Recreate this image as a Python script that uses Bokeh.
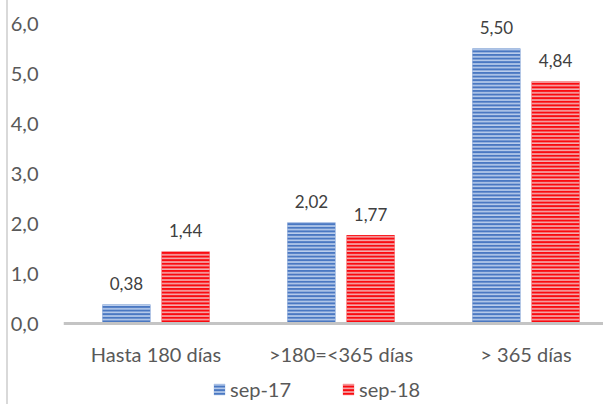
from bokeh.plotting import figure
from bokeh.models import (ColumnDataSource, FixedTicker, Legend, LegendItem,
                          LabelSet, Range1d)
from bokeh.transform import dodge
from bokeh.core.properties import value
from bokeh.embed import file_html
from bokeh.resources import INLINE

categories = ["Hasta 180 días", ">180=<365 días", "> 365 días"]
sep17 = [0.38, 2.02, 5.50]
sep18 = [1.44, 1.77, 4.84]
series_names = ["sep-17", "sep-18"]
y_ticks = [0, 1, 2, 3, 4, 5, 6]
y_tick_labels = ["0,0", "1,0", "2,0", "3,0", "4,0", "5,0", "6,0"]

FONT = "Lato"
AXIS_COLOR = "#595959"


def fmt(v):
    return f"{v:.2f}".replace(".", ",")


pos = [i + 0.5 for i in range(len(categories))]
src = ColumnDataSource(dict(
    x=pos, s17=sep17, s18=sep18,
    l17=[fmt(v) for v in sep17], l18=[fmt(v) for v in sep18],
))

border_css = (":host::after {content: ''; position: absolute; left: 6px; top: 0;"
              " width: 2px; height: 100%; background: #D9D9D9;"
              " pointer-events: none; z-index: 10;}")

p = figure(width=603, height=404,
           x_range=Range1d(0, 2.919), y_range=Range1d(-1.62, 6.26),
           output_backend="svg", toolbar_location=None,
           min_border_left=63, min_border_right=0,
           min_border_top=10, min_border_bottom=0,
           stylesheets=[border_css])
p.outline_line_color = None
p.xgrid.visible = False
p.ygrid.visible = False
p.background_fill_color = "white"
p.border_fill_color = "white"

r1 = p.vbar(x=dodge("x", -0.16), top="s17", bottom=0, width=0.26, source=src,
            fill_color="#4A78C2", line_color=None,
            hatch_pattern="horizontal_line", hatch_color="#C3D4EF",
            hatch_scale=3.6, hatch_weight=1.5)
r2 = p.vbar(x=dodge("x", 0.16), top="s18", bottom=0, width=0.26, source=src,
            fill_color="#FA0A0F", line_color=None,
            hatch_pattern="horizontal_line", hatch_color="#F2B9BB",
            hatch_scale=3.6, hatch_weight=1.5)

for col, lab, off in (("s17", "l17", -0.16), ("s18", "l18", 0.16)):
    p.add_layout(LabelSet(x=dodge("x", off), y=col, text=lab, source=src,
                          text_align="center", text_baseline="middle",
                          y_offset=21, text_font_size="17px",
                          text_color="#404040", text_font=value(FONT)))

# x axis, drawn at y = 0
p.xaxis.fixed_location = 0
p.xaxis.ticker = FixedTicker(ticks=pos)
p.xaxis.major_label_overrides = {k: c for k, c in zip(pos, categories)}
p.xaxis.axis_line_color = "#C4C4C4"
p.xaxis.axis_line_width = 3
p.xaxis.major_tick_line_color = None
p.xaxis.minor_tick_line_color = None
p.xaxis.major_label_standoff = 12
p.xaxis.major_label_text_font = FONT
p.xaxis.major_label_text_font_size = "20px"
p.xaxis.major_label_text_color = AXIS_COLOR

# y axis
p.yaxis.ticker = FixedTicker(ticks=y_ticks)
p.yaxis.major_label_overrides = {t: l for t, l in zip(y_ticks, y_tick_labels)}
p.yaxis.axis_line_color = None
p.yaxis.major_tick_line_color = None
p.yaxis.minor_tick_line_color = None
p.yaxis.major_label_standoff = 19
p.yaxis.major_label_text_font = FONT
p.yaxis.major_label_text_font_size = "20px"
p.yaxis.major_label_text_color = AXIS_COLOR

legend = Legend(items=[LegendItem(label=series_names[0], renderers=[r1]),
                       LegendItem(label=series_names[1], renderers=[r2])],
                location=(149, 3), orientation="horizontal",
                glyph_width=14, glyph_height=14, label_standoff=4,
                label_height=14, spacing=50, padding=0, margin=0,
                border_line_color=None, background_fill_alpha=0,
                label_text_font=FONT, label_text_font_size="20px",
                label_text_color=AXIS_COLOR)
p.add_layout(legend)

open("out.html", "w").write(file_html(p, INLINE))
